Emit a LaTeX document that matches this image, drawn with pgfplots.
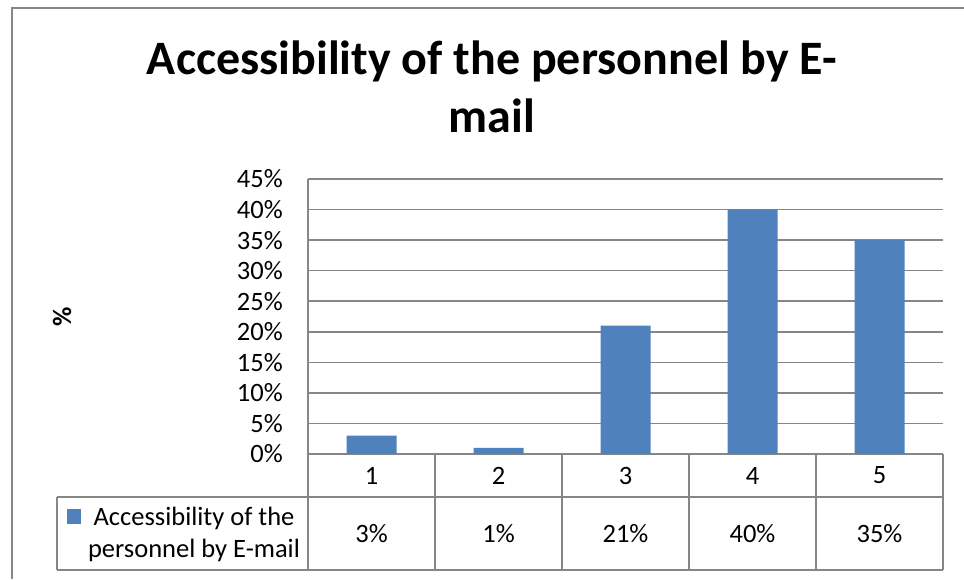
\documentclass[border=0pt]{standalone}
\usepackage{pgfplots}
\pgfplotsset{compat=1.18}
\usepackage{fontspec}
\setmainfont{Carlito}
\definecolor{barblue}{RGB}{79,129,189}
\definecolor{gridgray}{RGB}{134,134,134}
\newcommand{\smallfnt}{\fontsize{26.5}{32}\selectfont}
\begin{document}
\begin{tikzpicture}[x=1pt,y=1pt]
\useasboundingbox (0,0) rectangle (964,-579);
\draw[gridgray, line width=1.6pt] (12,-579) -- (12,-8) -- (964,-8);
\node[font=\fontsize{48}{58}\selectfont\bfseries, anchor=base] at (492,-74) {Accessibility of the personnel by E-};
\node[font=\fontsize{48}{58}\selectfont\bfseries, anchor=base] at (492,-132) {mail};
\node[rotate=90, font=\smallfnt\bfseries] at (62,-317) {\%};
\begin{axis}[
  at={(308pt,-454pt)}, anchor=south west,
  scale only axis, width=635pt, height=275pt,
  xmin=0.5, xmax=5.5, ymin=0, ymax=45,
  ytick={0,5,...,45},
  yticklabels={0\%,5\%,10\%,15\%,20\%,25\%,30\%,35\%,40\%,45\%},
  xtick={1,2,3,4,5}, xticklabels={1,2,3,4,5},
  major tick length=0pt, tick style={draw=none},
  ymajorgrids, grid style={gridgray, line width=1.6pt},
  axis x line*=bottom, axis y line*=left,
  axis line style={gridgray, line width=1.6pt, -},
  ticklabel style={font=\smallfnt},
  yticklabel style={anchor=east, inner sep=0pt, xshift=-25pt},
  xticklabel style={anchor=center, inner sep=0pt, yshift=-21.5pt},
  clip=false,
]
\addplot[ybar, bar width=50pt, fill=barblue, draw=none] coordinates {(1,3) (2,1) (3,21) (4,40) (5,35)};
\node[font=\smallfnt, inner sep=0pt] at (axis cs:1,0) [yshift=-79.5pt] {3\%};
\node[font=\smallfnt, inner sep=0pt] at (axis cs:2,0) [yshift=-79.5pt] {1\%};
\node[font=\smallfnt, inner sep=0pt] at (axis cs:3,0) [yshift=-79.5pt] {21\%};
\node[font=\smallfnt, inner sep=0pt] at (axis cs:4,0) [yshift=-79.5pt] {40\%};
\node[font=\smallfnt, inner sep=0pt] at (axis cs:5,0) [yshift=-79.5pt] {35\%};
\end{axis}
\draw[gridgray, line width=1.6pt] (57,-497) -- (943,-497);
\draw[gridgray, line width=1.6pt] (57,-570) -- (943,-570);
\draw[gridgray, line width=1.6pt] (57,-497) -- (57,-570);
\foreach \xx in {308,435,562,689,816,943} {
  \draw[gridgray, line width=1.6pt] (\xx,-454) -- (\xx,-570);
}
\fill[barblue] (67,-509) rectangle (81,-524);
\node[font=\smallfnt, anchor=base] at (194,-525) {Accessibility of the};
\node[font=\smallfnt, anchor=base] at (194,-557) {personnel by E-mail};
\end{tikzpicture}
\end{document}
